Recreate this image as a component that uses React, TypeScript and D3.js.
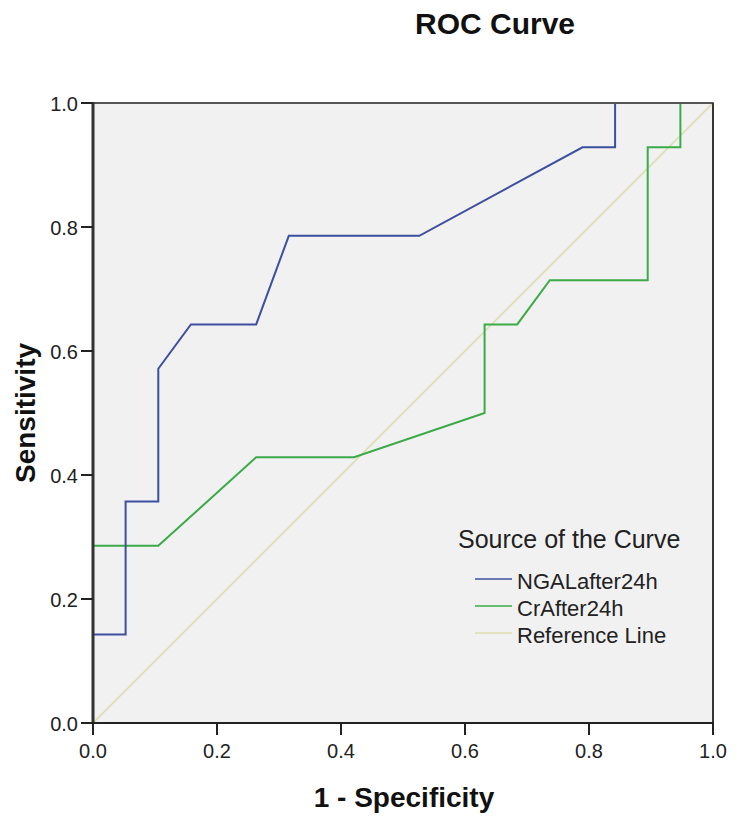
import React from "react";
import * as d3 from "d3";

const ngalX = [0, 0, 0.0526, 0.0526, 0.1053, 0.1053, 0.1579, 0.2632, 0.3158, 0.5263, 0.7895, 0.8421, 0.8421, 1];
const ngalY = [0, 0.1429, 0.1429, 0.3571, 0.3571, 0.5714, 0.6429, 0.6429, 0.7857, 0.7857, 0.9286, 0.9286, 1, 1];
const crX = [0, 0, 0.1053, 0.2632, 0.4211, 0.6316, 0.6316, 0.6842, 0.7368, 0.8947, 0.8947, 0.9474, 0.9474, 1];
const crY = [0, 0.2857, 0.2857, 0.4286, 0.4286, 0.5, 0.6429, 0.6429, 0.7143, 0.7143, 0.9286, 0.9286, 1, 1];
const refX = [0, 1];
const refY = [0, 1];
const ticks = [0, 0.2, 0.4, 0.6, 0.8, 1.0];
const seriesNames = ["NGALafter24h", "CrAfter24h", "Reference Line"];
const seriesColors = ["#3d4f9f", "#3aab47", "#dcdcaa"];

export default function App() {
  const left = 93, top = 103, right = 713, bottom = 723;
  const x = d3.scaleLinear().domain([0, 1]).range([left, right]);
  const y = d3.scaleLinear().domain([0, 1]).range([bottom, top]);
  const line = d3.line<[number, number]>().x(d => x(d[0])).y(d => y(d[1]));
  const mk = (xs: number[], ys: number[]) => xs.map((v, i) => [v, ys[i]] as [number, number]);
  const series = [mk(ngalX, ngalY), mk(crX, crY), mk(refX, refY)];
  const font = "'Liberation Sans', Arial, sans-serif";
  return (
    <svg width={738} height={823} style={{ position: "absolute", left: 0, top: 0 }} fontFamily={font}>
      <rect x={0} y={0} width={738} height={823} fill="#ffffff" />
      <text x={495} y={34} textAnchor="middle" fontSize={30} fontWeight="bold" fill="#111">ROC Curve</text>
      <rect x={left} y={top} width={right - left} height={bottom - top} fill="#f1f1f1" stroke="#444" strokeWidth={1.5} />
      <path d={line(series[2]) || ""} fill="none" stroke={seriesColors[2]} strokeWidth={1.5} />
      <path d={line(series[1]) || ""} fill="none" stroke={seriesColors[1]} strokeWidth={2} />
      <path d={line(series[0]) || ""} fill="none" stroke={seriesColors[0]} strokeWidth={2} />
      <line x1={left} y1={top} x2={right} y2={top} stroke="#555" strokeWidth={2} />
      <line x1={left} y1={top - 1} x2={left} y2={bottom + 1} stroke="#333" strokeWidth={3} />
      <line x1={left - 1} y1={bottom} x2={right + 1} y2={bottom} stroke="#222" strokeWidth={2} />
      <line x1={right} y1={top} x2={right} y2={bottom} stroke="#222" strokeWidth={1.5} />
      {ticks.map(t => (
        <g key={"x" + t}>
          <line x1={x(t)} y1={bottom} x2={x(t)} y2={bottom + 12} stroke="#222" strokeWidth={2} />
          <text x={x(t)} y={758} textAnchor="middle" fontSize={20} fill="#222">{t.toFixed(1)}</text>
        </g>
      ))}
      {ticks.map(t => (
        <g key={"y" + t}>
          <line x1={left - 12} y1={y(t)} x2={left} y2={y(t)} stroke="#222" strokeWidth={2} />
          <text x={left - 15} y={y(t) + 8} textAnchor="end" fontSize={20} fill="#222">{t.toFixed(1)}</text>
        </g>
      ))}
      <text x={404} y={807} textAnchor="middle" fontSize={28} fontWeight="bold" fill="#111">1 - Specificity</text>
      <text transform={`translate(35, ${(top + bottom) / 2}) rotate(-90)`} textAnchor="middle" fontSize={28} fontWeight="bold" fill="#111">Sensitivity</text>
      <text x={458} y={548} fontSize={25} fill="#222">Source of the Curve</text>
      {seriesNames.map((n, i) => (
        <g key={n}>
          <line x1={475} x2={512} y1={579 + i * 27} y2={579 + i * 27} stroke={seriesColors[i]} strokeWidth={1.5} />
          <text x={517} y={589 + i * 27} fontSize={22} fill="#222">{n}</text>
        </g>
      ))}
    </svg>
  );
}
